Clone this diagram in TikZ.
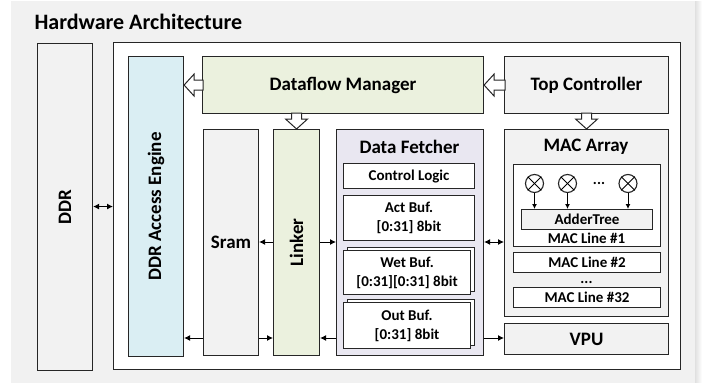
\documentclass[tikz,border=0pt]{standalone}
\usepackage{fontspec}
\setmainfont{Carlito}
\usetikzlibrary{arrows.meta,calc}

\definecolor{bggray}{HTML}{F1F1F1}
\definecolor{boxgray}{HTML}{F2F2F2}
\definecolor{engblue}{HTML}{DAEEF3}
\definecolor{mgrgreen}{HTML}{EBF1DE}
\definecolor{fetchlav}{HTML}{E9E7F1}
\definecolor{edge}{HTML}{262626}

\tikzset{
  big/.style={font=\bfseries\fontsize{19}{22}\selectfont},
  small/.style={font=\bfseries\fontsize{15}{19}\selectfont},
  blk/.style={draw=edge, line width=1.1pt, anchor=north west, inner sep=0pt, align=center, big},
  sub/.style={blk, fill=white, small},
  conn/.style={line width=1pt, -{Latex[length=6pt,width=6pt]}},
  biconn/.style={line width=1pt, {Latex[length=6pt,width=6pt]}-{Latex[length=6pt,width=6pt]}},
  hollow/.style={draw=edge, line width=1pt, fill=white, line join=miter},
  mult/.style={draw=edge, circle, line width=1.1pt, minimum size=18pt, inner sep=0pt, fill=white},
  tick/.style={line width=1pt, -{Latex[length=5pt,width=5pt]}},
  ellip/.style={small, inner sep=0pt, anchor=base},
}

\begin{document}
\begin{tikzpicture}[x=1pt, y=-1pt]
  \useasboundingbox (0,0) rectangle (705,383);
  % panel background with a soft edge on the right
  \fill[bggray] (11,1) rectangle (695,383);
  \shade[left color=black!12, right color=white] (695,1) rectangle (702,383);

  \node[anchor=base west, font=\bfseries\fontsize{22}{26}\selectfont] (title) at (31,29) {Hardware Architecture};

  % off-chip memory and the chip boundary
  \node[blk, fill=boxgray, minimum width=55pt, minimum height=327pt] (ddr) at (37,43) {};
  \node[big, rotate=90] (ddrtxt) at (ddr.center) {DDR};
  \node[blk, fill=white, line width=1.3pt, minimum width=567pt, minimum height=327pt] (chip) at (113,42) {};

  % control blocks
  \node[blk, fill=engblue, minimum width=55pt, minimum height=300pt] (ddrae) at (128,56) {};
  \node[big, rotate=90] (ddraetxt) at (ddrae.center) {DDR Access Engine};
  \node[blk, fill=mgrgreen, minimum width=281pt, minimum height=57pt] (dm) at (202,56) {Dataflow Manager};
  \node[blk, fill=boxgray, minimum width=164pt, minimum height=57pt] (tc) at (504,56) {Top Controller};

  % storage and routing
  \node[blk, fill=boxgray, minimum width=55pt, minimum height=226pt] (sram) at (203,129) {};
  \node[big] (sramtxt) at (sram.center) {Sram};
  \node[blk, fill=mgrgreen, minimum width=46pt, minimum height=226pt] (linker) at (273,129) {};
  \node[big, rotate=90] (linkertxt) at (linker.center) {Linker};

  % data fetcher with its buffers
  \node[blk, fill=fetchlav, minimum width=147pt, minimum height=226pt] (df) at (336,129) {};
  \node[big] (dftxt) at (409.5,147) {Data Fetcher};
  \node[sub, minimum width=131pt, minimum height=25pt] (ctrl) at (343,163) {Control Logic};
  \node[sub, minimum width=131pt, minimum height=45pt] (act) at (343,195) {Act Buf.\\{[0:31] 8bit}};
  \node[sub, minimum width=127pt, minimum height=44pt] (wetback) at (347,247) {};
  \node[sub, minimum width=127pt, minimum height=44pt] (wet) at (343,250) {Wet Buf.\\{[0:31][0:31] 8bit}};
  \node[sub, minimum width=127pt, minimum height=46pt] (outback) at (347,299) {};
  \node[sub, minimum width=127pt, minimum height=46pt] (out) at (343,302) {Out Buf.\\{[0:31] 8bit}};

  % MAC array
  \node[blk, fill=boxgray, minimum width=164pt, minimum height=187pt] (mac) at (504,129) {};
  \node[big] (mactxt) at (586,147) {MAC Array};
  \node[sub, minimum width=147pt, minimum height=82pt] (line1) at (513,164) {};
  \node[mult] (m1) at (534.5,183.5) {};
  \node[mult] (m2) at (567.5,183.5) {};
  \node[mult] (m3) at (628,183.5) {};
  \foreach \m in {m1,m2,m3} {
    \draw[line width=1pt] (\m.north west) -- (\m.south east);
    \draw[line width=1pt] (\m.north east) -- (\m.south west);
  }
  \node[ellip] (mdots) at (599,184) {...};
  \node[sub, fill=boxgray, minimum width=131pt, minimum height=20pt] (adder) at (521,209) {AdderTree};
  \foreach \m in {m1,m2,m3} \draw[tick] (\m.south) -- (\m.south |- adder.north);
  \node[small] (line1txt) at (586.5,238.5) {MAC Line \#1};
  \node[sub, minimum width=147pt, minimum height=20pt] (line2) at (513,252) {MAC Line \#2};
  \node[ellip] (linedots) at (586.5,283) {...};
  \node[sub, minimum width=147pt, minimum height=20pt] (line32) at (513,287) {MAC Line \#32};
  \node[blk, fill=boxgray, minimum width=164pt, minimum height=31pt] (vpu) at (504,323) {VPU};

  % control flow (hollow block arrows)
  \draw[hollow] (ddrae.east |- dm.west) -- ++(10,-11) -- ++(0,6) -- ++(9,0) -- ++(0,10) -- ++(-9,0) -- ++(0,6) -- cycle;
  \draw[hollow] (dm.east) -- ++(10,-11) -- ++(0,6) -- ++(11,0) -- ++(0,10) -- ++(-11,0) -- ++(0,6) -- cycle;
  \draw[hollow] (linker.north) -- ++(-11,-10) -- ++(6,0) -- ++(0,-6) -- ++(10,0) -- ++(0,6) -- ++(6,0) -- cycle;
  \draw[hollow] (mac.north) -- ++(-11,-10) -- ++(6,0) -- ++(0,-6) -- ++(10,0) -- ++(0,6) -- ++(6,0) -- cycle;

  % data paths
  \coordinate (rowa) at (0,242);
  \coordinate (rowb) at (0,338);
  \draw[biconn] (ddr.east |- ddrae.center) -- (chip.west |- ddrae.center);
  \draw[conn] (linker.west |- rowa) -- (sram.east |- rowa);
  \draw[conn] (linker.east |- rowa) -- (df.west |- rowa);
  \draw[biconn] (df.east |- rowa) -- (mac.west |- rowa);
  \draw[conn] (sram.west |- rowb) -- (ddrae.east |- rowb);
  \draw[conn] (sram.east |- rowb) -- (linker.west |- rowb);
  \draw[conn] (df.west |- rowb) -- (linker.east |- rowb);
  \draw[conn] (df.east |- rowb) -- (vpu.west |- rowb);
\end{tikzpicture}
\end{document}
